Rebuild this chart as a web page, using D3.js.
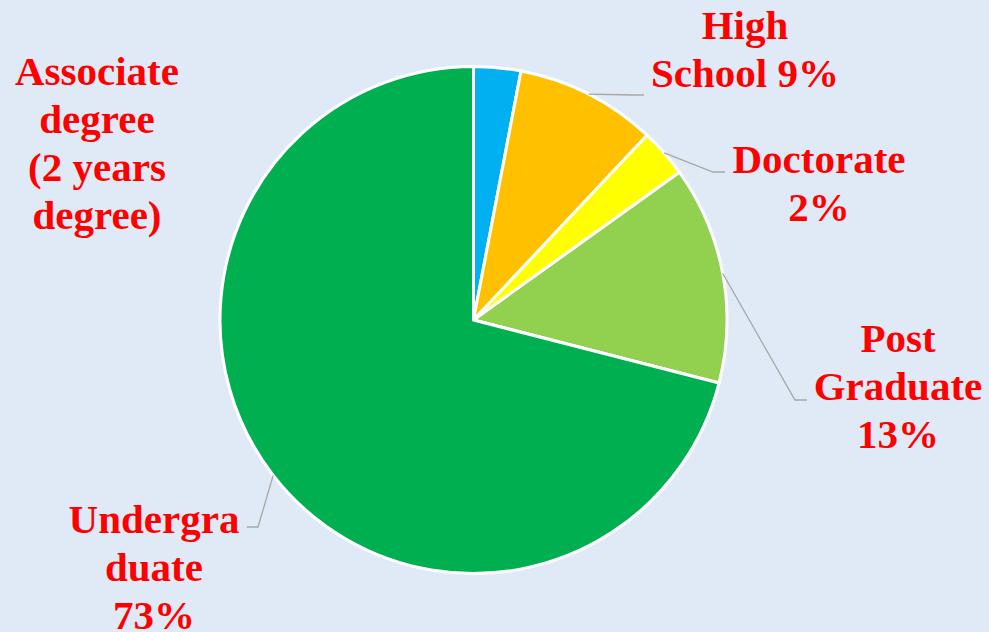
<!DOCTYPE html>
<html>
<head>
<meta charset="utf-8">
<script src="https://cdn.jsdelivr.net/npm/d3@7"></script>
<style>
  html, body { margin: 0; padding: 0; background: #e0eaf6; }
  svg { display: block; }
  .lbl { font-family: 'Liberation Serif', 'Times New Roman', Times, Tinos, 'DejaVu Serif', serif; font-weight: bold; font-size: 41px; }
</style>
</head>
<body>
<div id="chart"></div>
<script>
'use strict'

// slice data, clockwise from 12 o'clock
const categories = ['Associate degree', 'High School', 'Doctorate', 'Post Graduate', 'Undergraduate']
const values = [3.0, 9.0, 3.1, 13.9, 71.0]
const labelLines = [
	['Associate', 'degree', '(2 years', 'degree)'],
	['High', 'School 9%'],
	['Doctorate', '2%'],
	['Post', 'Graduate', '13%'],
	['Undergra', 'duate', '73%']
]
const colors = ['#00b0f0', '#ffc000', '#ffff00', '#92d050', '#00b050']

// label layout: text centre x, first baseline y, leader elbow/end (null = no leader)
const labelLayout = [
	{ x: 97, y: 85, elbow: null, end: null },
	{ x: 745, y: 39, elbow: [632, 95], end: [644, 95] },
	{ x: 819, y: 173, elbow: [713, 172], end: [725, 172] },
	{ x: 898, y: 352, elbow: [795, 400], end: [807, 400] },
	{ x: 154, y: 533, elbow: [258, 527], end: [247, 527] }
]

const width = 989,
		height = 632
const cx = 473.5,
		cy = 320,
		radius = 253.5
const lineHeight = 48

const svg = d3.select('#chart').append('svg')
	.attr('width', width)
	.attr('height', height)

svg.append('rect')
	.attr('width', width)
	.attr('height', height)
	.attr('fill', '#e0eaf6')

const data = categories.map((c, i) => ({ name: c, value: values[i], lines: labelLines[i], layout: labelLayout[i], color: colors[i] }))

const pie = d3.pie()
	.sort(null)
	.value(d => d.value)

const arc = d3.arc()
	.innerRadius(0)
	.outerRadius(radius)

const arcs = pie(data)

const g = svg.append('g')
	.attr('transform', `translate(${cx},${cy})`)

g.selectAll('path.slice')
	.data(arcs)
	.enter().append('path')
	.attr('class', 'slice')
	.attr('d', arc)
	.attr('fill', d => d.data.color)
	.attr('stroke', '#ffffff')
	.attr('stroke-width', 3)
	.attr('stroke-linejoin', 'round')

// leader lines from the arc at the slice mid-angle
const edgePoint = (d) => {
	const a = (d.startAngle + d.endAngle) / 2
	return [cx + radius * Math.sin(a), cy - radius * Math.cos(a)]
}

svg.append('g')
	.selectAll('polyline')
	.data(arcs.filter(d => d.data.layout.elbow))
	.enter().append('polyline')
	.attr('points', d => [edgePoint(d), d.data.layout.elbow, d.data.layout.end].map(p => p.join(',')).join(' '))
	.attr('fill', 'none')
	.attr('stroke', '#a6a6a6')
	.attr('stroke-width', 1.3)

const labels = svg.append('g')
	.selectAll('text')
	.data(arcs)
	.enter().append('text')
	.attr('class', 'lbl')
	.attr('text-anchor', 'middle')
	.attr('fill', '#ff0000')

labels.selectAll('tspan')
	.data(d => d.data.lines.map((t, i) => ({ t, i, layout: d.data.layout })))
	.enter().append('tspan')
	.attr('x', d => d.layout.x)
	.attr('y', d => d.layout.y + d.i * lineHeight)
	.text(d => d.t)
</script>
</body>
</html>
